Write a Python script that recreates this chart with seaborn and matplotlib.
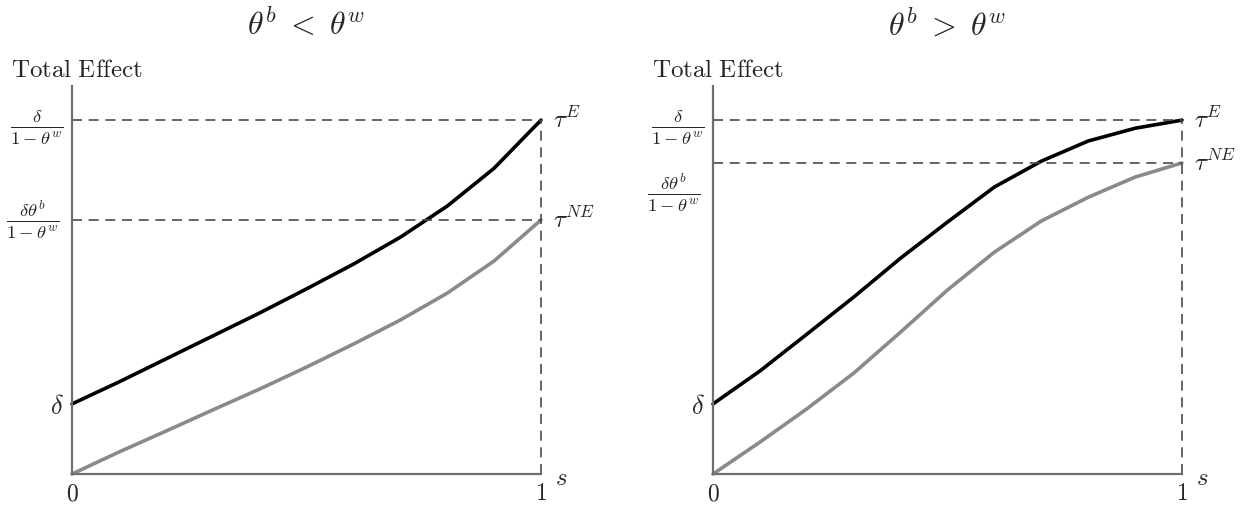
import numpy as np
import pandas as pd
import matplotlib
matplotlib.use("Agg")
import matplotlib.pyplot as plt
import seaborn as sns

# share of the population s
s_grid = [0.0, 0.1, 0.2, 0.3, 0.4, 0.5, 0.6, 0.7, 0.8, 0.9, 1.0]

# total effect, scaled so that delta / (1 - theta^w) = 1
left_exempt = [0.198, 0.260, 0.325, 0.390, 0.455, 0.523, 0.593, 0.669, 0.757, 0.864, 1.0]
left_nonexempt = [0.0, 0.062, 0.121, 0.181, 0.240, 0.302, 0.367, 0.435, 0.511, 0.602, 0.718]
right_exempt = [0.198, 0.291, 0.395, 0.500, 0.610, 0.712, 0.811, 0.884, 0.941, 0.977, 1.0]
right_nonexempt = [0.0, 0.090, 0.184, 0.285, 0.401, 0.520, 0.627, 0.715, 0.782, 0.839, 0.879]

delta = 0.198
top_level = 1.0
ne_levels = [0.718, 0.879]
titles = [r"$\theta^b\;<\;\theta^w$", r"$\theta^b\;>\;\theta^w$"]

sns.set_style("white")
plt.rcParams["mathtext.fontset"] = "cm"
plt.rcParams["font.family"] = ["DejaVu Serif"]

AXIS_GREY = "#6e6e6e"
DASH_GREY = "#4a4a4a"

fig = plt.figure(figsize=(12.52, 5.05), dpi=100)
ax_l = fig.add_axes([0.0575, 0.0614, 0.3746, 0.768])
ax_r = fig.add_axes([0.5695, 0.0614, 0.3746, 0.768])

panels = [
    (ax_l, left_exempt, left_nonexempt, ne_levels[0], ne_levels[0]),
    (ax_r, right_exempt, right_nonexempt, ne_levels[1], 0.794),
]

for i, (ax, exempt, nonexempt, ne, ne_label_y) in enumerate(panels):
    df = pd.DataFrame({"s": s_grid, "exempt": exempt, "nonexempt": nonexempt})

    sns.lineplot(data=df, x="s", y="nonexempt", color="#8a8a8a", lw=2.6, ax=ax, clip_on=False)
    sns.lineplot(data=df, x="s", y="exempt", color="black", lw=2.6, ax=ax, clip_on=False)

    dash = (0, (6, 4))
    ax.plot([0, 1], [top_level, top_level], color=DASH_GREY, lw=1.2, ls=dash, clip_on=False)
    ax.plot([0, 1], [ne, ne], color=DASH_GREY, lw=1.2, ls=dash, clip_on=False)
    ax.plot([1, 1], [0, top_level], color=DASH_GREY, lw=1.2, ls=dash, clip_on=False)

    ax.set_xlim(0, 1)
    ax.set_ylim(0, 1.096)
    for side in ["top", "right"]:
        ax.spines[side].set_visible(False)
    for side in ["left", "bottom"]:
        ax.spines[side].set_color(AXIS_GREY)
        ax.spines[side].set_linewidth(1.6)

    ax.set_xticks([0, 1])
    ax.set_xticklabels([r"$0$", r"$1$"], fontsize=17)
    ax.set_yticks([delta, top_level])
    ax.set_yticklabels([r"$\delta$", r"$\frac{\delta}{1-\theta^w}$"], fontsize=19)
    ax.tick_params(length=0, pad=6)
    ax.set_xlabel("")
    ax.set_ylabel("")

    ax.text(-0.027, ne_label_y, r"$\frac{\delta\theta^b}{1-\theta^w}$", fontsize=19,
            ha="right", va="center", transform=ax.transData)

    ax.text(1.025, top_level, r"$\tau^E$", fontsize=18, ha="left", va="center")
    ax.text(1.025, ne, r"$\tau^{NE}$", fontsize=18, ha="left", va="center")
    ax.text(1.03, -0.012, r"$s$", fontsize=18, ha="left", va="center")

    ax.text(-0.13, 1.14, r"$\mathrm{Total\ Effect}$", fontsize=18, ha="left", va="center",
            transform=ax.transData, clip_on=False)
    ax.set_title(titles[i], fontsize=23, pad=37)

fig.savefig("out.png", dpi=100, facecolor="white")
